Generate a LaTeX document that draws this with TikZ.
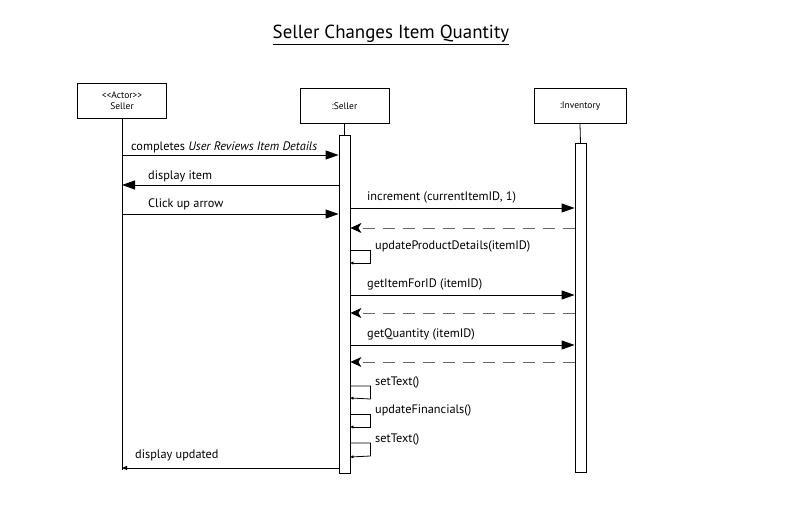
\documentclass[tikz,border=0pt]{standalone}
\usepackage{fontspec}
\setmainfont[Ligatures=NoCommon]{PT Sans}
\usetikzlibrary{arrows.meta}
\begin{document}
\begin{tikzpicture}[x=1pt,y=-1pt,
  obj/.style={draw,line width=0.8pt,minimum width=89pt,minimum height=35pt,inner sep=0pt,font=\fontsize{9.5}{11}\selectfont,align=center},
  act/.style={draw,fill=white,line width=0.8pt,minimum width=11pt,inner sep=0pt},
  msg/.style={line width=0.9pt,-{Triangle[length=13pt,width=9pt]}},
  ret/.style={line width=0.9pt,draw=black!60,dash pattern=on 12pt off 8pt,-{Stealth[length=11pt,width=10pt,inset=3pt,fill=black,color=black]}},
  selfc/.style={line width=0.8pt,-{Triangle[length=3pt,width=3pt]}},
  lbl/.style={font=\fontsize{12.3}{13}\selectfont,anchor=base west,inner sep=0pt},
  life/.style={line width=0.8pt}]
\useasboundingbox (0,0) rectangle (804,521);
\node[font=\fontsize{18.9}{21}\selectfont,inner sep=0pt] (title) at (391,35) {\underline{Seller Changes Item Quantity}};
% objects
\node[obj] (actor) at (122,100.5) {{<}{<}Actor{>}{>}\\Seller};
\node[obj] (seller) at (344.5,106) {:Seller};
\node[obj,minimum width=92pt] (inv) at (580,106) {:Inventory};
% activations
\node[act,minimum height=338pt,anchor=north] (sa) at (344.5,135) {};
\node[act,minimum height=329pt,anchor=north] (ia) at (580.5,143) {};
\coordinate (aend) at (122,470);
\draw[life] (actor.south) -- (aend);
\draw[life] (seller.south) -- (sa.north);
\draw[life] (inv.south) -- (ia.north);
% messages actor <-> seller
\coordinate (a1) at (122,155); \coordinate (s1) at (sa.west |- a1);
\draw[msg] (a1) -- (s1);
\node[lbl] at (131,151) {completes \textit{User Reviews Item Details}};
\coordinate (a2) at (122,185); \coordinate (s2) at (sa.west |- a2);
\draw[msg] (s2) -- (a2);
\node[lbl] at (148,180) {display item};
\coordinate (a3) at (122,214); \coordinate (s3) at (sa.west |- a3);
\draw[msg] (a3) -- (s3);
\node[lbl] at (148,208) {Click up arrow};
% seller <-> inventory
\foreach \y/\r/\t [count=\i] in {208/228/{increment (currentItemID, 1)},295/313/{getItemForID (itemID)},345/362/{getQuantity (itemID)}}{
  \coordinate (p\i) at (sa.east |- 0,\y);
  \coordinate (q\i) at (ia.west |- 0,\y);
  \coordinate (pr\i) at (sa.east |- 0,\r);
  \coordinate (qr\i) at (ia.west |- 0,\r);
  \draw[msg] (p\i) -- (q\i);
  \draw[ret] (qr\i) -- (pr\i);
  \node[lbl] at (367,\y-7) {\t};
}
% self calls
\foreach \a/\b/\t [count=\i] in {250/263/{updateProductDetails(itemID)},386/398/{setText()},414/427/{updateFinancials()},443/457/{setText()}}{
  \coordinate (u\i) at (sa.east |- 0,\a);
  \coordinate (v\i) at (sa.east |- 0,\b);
  \draw[selfc] (u\i) -| ++(20,13) -- (v\i);
  \node[lbl] at (375,\a) {\t};
}
% final
\coordinate (s4) at (sa.west |- 0,468);
\coordinate (a4) at (122,468);
\draw[line width=0.8pt,-{Triangle[length=5pt,width=4pt]}] (s4) -- (a4);
\node[lbl] at (135,459) {display updated};
\end{tikzpicture}
\end{document}
